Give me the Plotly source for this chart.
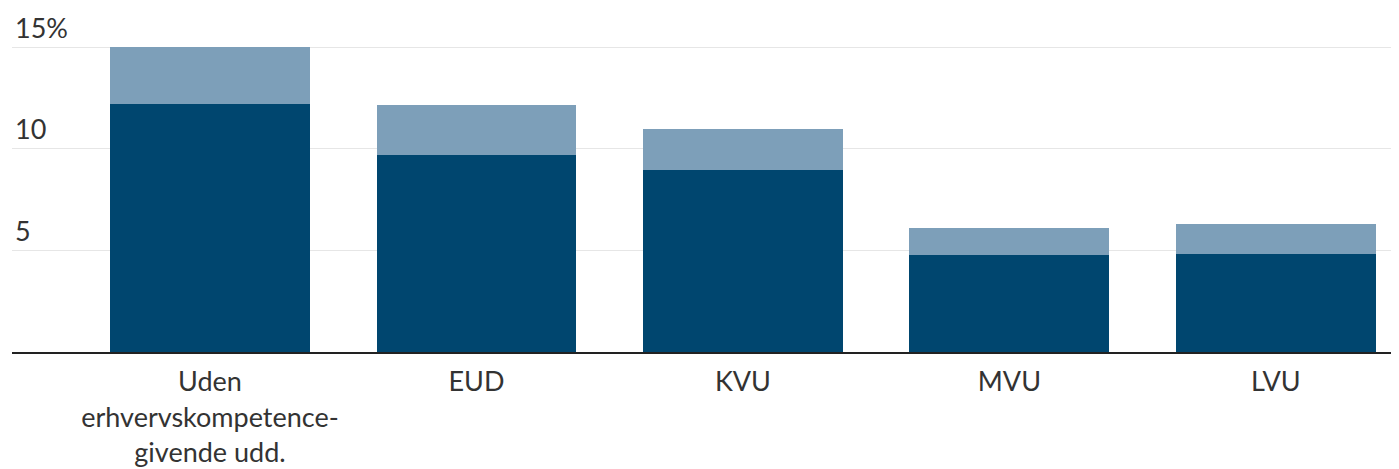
import plotly.graph_objects as go

categories = ["Uden<br>erhvervskompetence-<br>givende udd.", "EUD", "KVU", "MVU", "LVU"]
dark_values = [12.2, 9.7, 8.95, 4.75, 4.8]
light_values = [2.8, 2.45, 2.0, 1.35, 1.5]
y_tickvals = [5, 10, 15]
y_ticktext = ["5", "10", "15%"]

fig = go.Figure()
fig.add_trace(go.Bar(x=categories, y=dark_values, marker=dict(color="#00466f", line=dict(width=0)), showlegend=False))
fig.add_trace(go.Bar(x=categories, y=light_values, marker=dict(color="#7d9fb9", line=dict(width=0)), showlegend=False))

fig.update_layout(
    barmode="stack",
    bargap=0.25,
    width=1391, height=461,
    margin=dict(l=4, r=0, t=0, b=117),
    plot_bgcolor="white", paper_bgcolor="white",
    font=dict(family="Lato", size=27, color="#333333"),
    xaxis=dict(
        type="category",
        range=[-0.743, 4.462],
        showgrid=False,
        showline=True, linecolor="#222222", linewidth=2,
        ticks="", ticklabelstandoff=5,
        tickfont=dict(size=27, color="#333333"),
    ),
    yaxis=dict(
        range=[0, 16.92],
        tickvals=y_tickvals, ticktext=y_ticktext,
        ticklabelposition="inside top",
        showgrid=True, gridcolor="#e6e6e6", gridwidth=1,
        zeroline=False, showline=False, ticks="",
        tickfont=dict(size=27, color="#333333"),
    ),
)

fig.write_html("out.html")
